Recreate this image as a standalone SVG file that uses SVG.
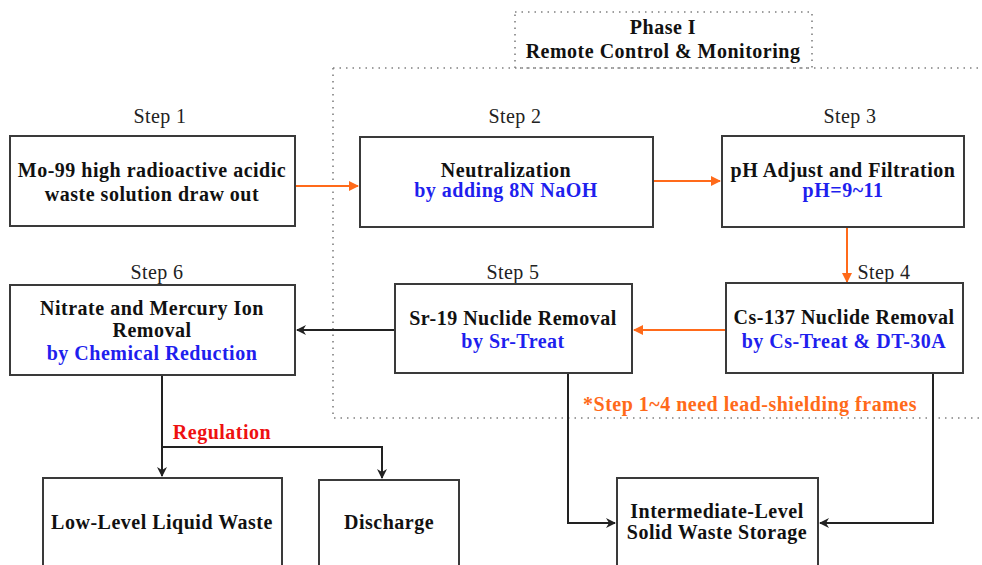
<svg xmlns="http://www.w3.org/2000/svg" width="982" height="565" viewBox="0 0 982 565">
  <style>
    .box { fill: #ffffff; stroke: #3a3a3a; stroke-width: 2; }
    .t { font-family: "Liberation Serif", "Times New Roman", serif; font-weight: bold; font-size: 20px; letter-spacing: 0.5px; text-anchor: middle; fill: #111111; }
    .b { fill: #1f1fee; }
    .step { font-family: "Liberation Serif", "Times New Roman", serif; font-size: 20px; letter-spacing: 0.4px; text-anchor: middle; fill: #222222; }
    .dot { fill: none; stroke: #808080; stroke-width: 1.6; stroke-dasharray: 1.5 5; }
    .or { fill: none; stroke: #ff6a1a; stroke-width: 2; }
    .bk { fill: none; stroke: #222222; stroke-width: 2; }
  </style>
  <defs>
    <marker id="ao" markerWidth="10" markerHeight="10" refX="9" refY="5" orient="auto" markerUnits="userSpaceOnUse">
      <path d="M0,0 L10,5 L0,10 z" fill="#ff6a1a"/>
    </marker>
    <marker id="ab" markerWidth="10" markerHeight="10" refX="9" refY="5" orient="auto" markerUnits="userSpaceOnUse">
      <path d="M0,0 L10,5 L0,10 L3,5 z" fill="#222222"/>
    </marker>
  </defs>

  <rect width="982" height="565" fill="#ffffff"/>

  <!-- Phase I remote-control zone -->
  <g id="phase">
    <path class="dot" d="M333,68 H982 M333,68 V418 H982"/>
    <rect class="dot" x="515" y="12" width="297" height="56"/>
    <text class="t" x="663" y="34">Phase I</text>
    <text class="t" x="663" y="58">Remote Control &amp; Monitoring</text>
    <text class="t" x="750" y="411" style="fill:#ff6a1a">*Step 1~4 need lead-shielding frames</text>
  </g>

  <!-- Connectors -->
  <g id="connectors">
    <line class="or" x1="295" y1="186" x2="358" y2="186" marker-end="url(#ao)"/>
    <line class="or" x1="653" y1="181" x2="720" y2="181" marker-end="url(#ao)"/>
    <line class="or" x1="847" y1="227" x2="847" y2="282" marker-end="url(#ao)"/>
    <line class="or" x1="725" y1="330" x2="634" y2="330" marker-end="url(#ao)"/>
    <line class="bk" x1="395" y1="330" x2="297" y2="330" marker-end="url(#ab)"/>
    <polyline class="bk" points="162,375 162,476" marker-end="url(#ab)"/>
    <polyline class="bk" points="162,447 382,447 382,478" marker-end="url(#ab)"/>
    <polyline class="bk" points="568,373 568,523 615,523" marker-end="url(#ab)"/>
    <polyline class="bk" points="933,373 933,523 820,523" marker-end="url(#ab)"/>
    <text class="t" x="222" y="439" style="fill:#ee1111">Regulation</text>
  </g>

  <!-- Step 1 -->
  <g id="step1">
    <text class="step" x="160" y="123">Step 1</text>
    <rect class="box" x="10" y="136" width="285" height="90"/>
    <text class="t" x="152" y="177">Mo-99 high radioactive acidic</text>
    <text class="t" x="152" y="201">waste solution draw out</text>
  </g>

  <!-- Step 2 -->
  <g id="step2">
    <text class="step" x="515" y="123">Step 2</text>
    <rect class="box" x="360" y="137" width="293" height="90"/>
    <text class="t" x="506" y="177">Neutralization</text>
    <text class="t b" x="506" y="197">by adding 8N NaOH</text>
  </g>

  <!-- Step 3 -->
  <g id="step3">
    <text class="step" x="850" y="123">Step 3</text>
    <rect class="box" x="722" y="136" width="242" height="91"/>
    <text class="t" x="843" y="177">pH Adjust and Filtration</text>
    <text class="t b" x="843" y="197">pH=9~11</text>
  </g>

  <!-- Step 4 -->
  <g id="step4">
    <text class="step" x="884" y="279">Step 4</text>
    <rect class="box" x="726" y="283" width="237" height="90"/>
    <text class="t" x="844" y="324">Cs-137 Nuclide Removal</text>
    <text class="t b" x="844" y="348">by Cs-Treat &amp; DT-30A</text>
  </g>

  <!-- Step 5 -->
  <g id="step5">
    <text class="step" x="513" y="279">Step 5</text>
    <rect class="box" x="395" y="284" width="237" height="89"/>
    <text class="t" x="513" y="325">Sr-19 Nuclide Removal</text>
    <text class="t b" x="513" y="348">by Sr-Treat</text>
  </g>

  <!-- Step 6 -->
  <g id="step6">
    <text class="step" x="157" y="279">Step 6</text>
    <rect class="box" x="10" y="285" width="285" height="90"/>
    <text class="t" x="152" y="315">Nitrate and Mercury Ion</text>
    <text class="t" x="152" y="337">Removal</text>
    <text class="t b" x="152" y="360">by Chemical Reduction</text>
  </g>

  <!-- Outputs -->
  <g id="lowLevel">
    <rect class="box" x="43" y="478" width="239" height="100"/>
    <text class="t" x="162" y="529">Low-Level Liquid Waste</text>
  </g>
  <g id="discharge">
    <rect class="box" x="319" y="480" width="140" height="100"/>
    <text class="t" x="389" y="529">Discharge</text>
  </g>
  <g id="storage">
    <rect class="box" x="617" y="478" width="201" height="100"/>
    <text class="t" x="717" y="518">Intermediate-Level</text>
    <text class="t" x="717" y="539">Solid Waste Storage</text>
  </g>
</svg>
